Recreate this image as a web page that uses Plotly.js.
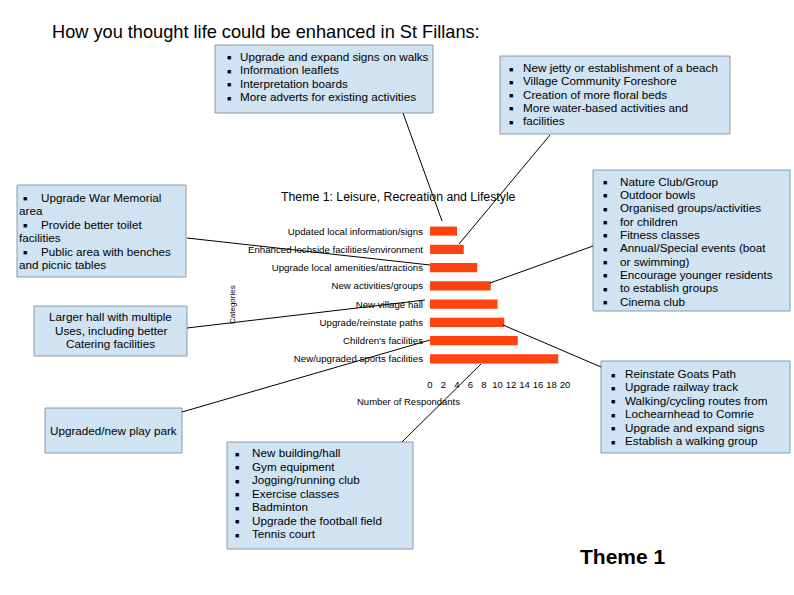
<!DOCTYPE html>
<html><head><meta charset="utf-8">
<script src="https://cdn.plot.ly/plotly-3.0.1.min.js"></script>
<style>html,body{margin:0;padding:0;background:#fff}#chart{width:794px;height:595px}</style>
</head><body><div id="chart"></div>
<script>
// ---- Data ----
const categories = [
  "Updated local information/signs",
  "Enhanced lochside facilities/environment",
  "Upgrade local amenities/attractions",
  "New activities/groups",
  "New village hall",
  "Upgrade/reinstate paths",
  "Children's facilities",
  "New/upgraded sports facilities"
];
const respondents = [4, 5, 7, 9, 10, 11, 13, 19];
const xTicks = [0, 2, 4, 6, 8, 10, 12, 14, 16, 18, 20];

const pageTitle = "How you thought life could be enhanced in St Fillans:";
const chartTitle = "Theme 1: Leisure, Recreation and Lifestyle";
const xTitle = "Number of Respondants";
const yTitle = "Categories";
const themeLabel = "Theme 1";

const boxSigns = ["Upgrade and expand signs on walks", "Information leaflets", "Interpretation boards", "More adverts for existing activities"];
const boxLochside = ["New jetty or establishment of a beach", "Village Community Foreshore", "Creation of more floral beds", "More water-based activities and", "facilities"];
const boxAmenities = [[true, "Upgrade War Memorial"], [false, "area"], [true, "Provide better toilet"], [false, "facilities"], [true, "Public area with benches"], [false, "and picnic tables"]];
const boxHall = ["Larger hall with multiple", "Uses, including better", "Catering facilities"];
const boxActivities = ["Nature Club/Group", "Outdoor bowls", "Organised groups/activities", "for children", "Fitness classes", "Annual/Special events (boat", "or swimming)", "Encourage younger residents", "to establish groups", "Cinema club"];
const boxPaths = ["Reinstate Goats Path", "Upgrade railway track", "Walking/cycling routes from", "Lochearnhead to Comrie", "Upgrade and expand signs", "Establish a walking group"];
const boxPlayPark = ["Upgraded/new play park"];
const boxSports = ["New building/hall", "Gym equipment", "Jogging/running club", "Exercise classes", "Badminton", "Upgrade the football field", "Tennis court"];

// ---- Layout helpers (pixel -> paper) ----
const W = 794, H = 595;
const px = x => x / W;
const py = y => 1 - y / H;
const FONT = "Liberation Sans, Arial, sans-serif";
const FILL = "#cfe3f2", BORDER = "#8a9aaa";
const BOXFONT = 11.7;
const BULLET = "\u25A0";

const shapes = [];
const annotations = [];

function rect(x0, y0, x1, y1) {
  shapes.push({type: "rect", xref: "paper", yref: "paper", x0: px(x0), x1: px(x1), y0: py(y1), y1: py(y0),
    fillcolor: FILL, line: {color: BORDER, width: 1}, layer: "below"});
}
function line(x0, y0, x1, y1) {
  shapes.push({type: "line", xref: "paper", yref: "paper", x0: px(x0), y0: py(y0), x1: px(x1), y1: py(y1),
    line: {color: "#000", width: 1}, layer: "above"});
}
function text(t, x, y, size, anchor, opts) {
  annotations.push(Object.assign({text: t, xref: "paper", yref: "paper", x: px(x), y: py(y),
    xanchor: anchor || "left", yanchor: "middle", showarrow: false,
    font: {family: FONT, size: size || 11, color: "#000"}}, opts || {}));
}
function bullet(x, y) { text(BULLET, x, y + 1.5, 7); }
function bulletBox(lines, bx, tx, y0, dy) {
  lines.forEach((t, i) => {
    bullet(bx, y0 + i * dy);
    text(t, tx - 2, y0 + i * dy, BOXFONT);
  });
}

// Boxes
rect(215, 45, 433, 113);  bulletBox(boxSigns, 225, 240, 56.5, 13.4);
rect(500, 56, 730, 134);  bulletBox(boxLochside, 507, 523, 67.5, 13.3);
rect(17, 185, 186, 277);
boxAmenities.forEach((p, i) => {
  const y = 197.5 + i * 13.4;
  if (p[0]) { bullet(21, y); text(p[1], 39, y, BOXFONT); }
  else text(p[1], 17, y, BOXFONT);
});
rect(34, 306, 187, 356);  boxHall.forEach((t, i) => text(t, 110.5, 316.5 + i * 13.5, BOXFONT, "center"));
rect(593, 170, 790, 311); bulletBox(boxActivities, 601, 620, 181, 13.35);
rect(601, 361, 790, 453); bulletBox(boxPaths, 609, 625, 373.5, 13.4);
rect(45, 408, 182, 453);  text(boxPlayPark[0], 113.5, 430.5, BOXFONT, "center");
rect(227, 442, 413, 549); bulletBox(boxSports, 233, 252, 452.5, 13.5);

// Connector lines
line(403, 113, 442, 221);
line(550, 135, 459, 244);
line(187, 238, 430, 265);
line(187, 328, 425, 300);
line(593, 246, 490, 283);
line(601, 367, 503, 325);
line(182, 412, 430, 340);
line(402, 442, 481, 364);

// Titles
text(pageTitle, 50, 32, 18.2);
text(chartTitle, 398.5, 197, 12.3, "center");
text(xTitle, 408, 401, 9.5, "center");
text(yTitle, 232, 305, 8, "center", {textangle: -90});
text(themeLabel, 578, 556, 21, "left", {font: {family: FONT, size: 21, color: "#000", weight: "bold"}});

const trace = {
  type: "bar", orientation: "h",
  x: respondents, y: categories,
  marker: {color: "#ff420e", line: {width: 0}},
  hoverinfo: "skip"
};

const layout = {
  width: W, height: H,
  margin: {l: 0, r: 0, t: 0, b: 0},
  paper_bgcolor: "#fff", plot_bgcolor: "rgba(0,0,0,0)",
  showlegend: false,
  bargap: 0.5,
  font: {family: FONT, color: "#000"},
  xaxis: {domain: [px(430), px(565)], range: [0, 20], tickvals: xTicks, ticktext: xTicks.map(String),
    showgrid: false, zeroline: false, showline: false, ticks: "", ticklabelstandoff: 9,
    tickfont: {family: FONT, size: 9.5, color: "#000"}, fixedrange: true},
  yaxis: {domain: [py(368), py(222)], type: "category", categoryorder: "array", categoryarray: categories,
    range: [7.5, -0.5], showgrid: false, zeroline: false, showline: false, ticks: "",
    ticklabelstandoff: 6, tickfont: {family: FONT, size: 9.7, color: "#000"}, fixedrange: true},
  shapes: shapes,
  annotations: annotations
};

Plotly.newPlot("chart", [trace], layout, {staticPlot: true, displayModeBar: false});
</script>
</body></html>
